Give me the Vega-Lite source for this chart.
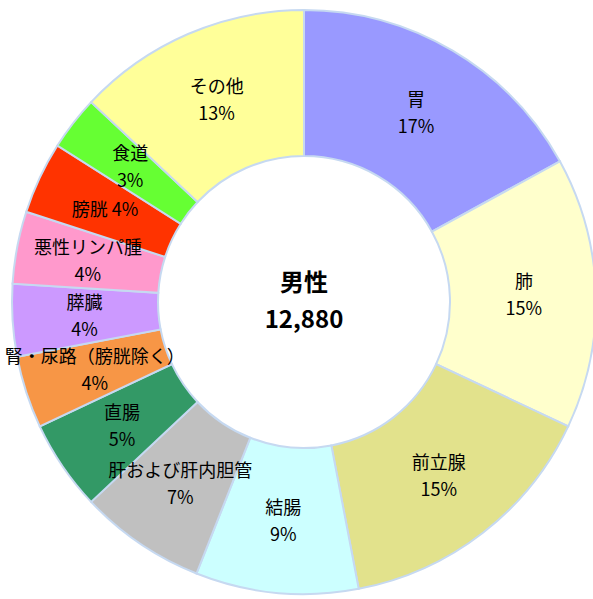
{
  "$schema": "https://vega.github.io/schema/vega-lite/v6.json",
  "width": 608,
  "height": 604,
  "autosize": {"type": "none"},
  "padding": 0,
  "background": "white",
  "config": {"view": {"stroke": null}},
  "datasets": {
    "parts": [
      {"idx": 1, "category": "胃", "pct": 17, "label2": ["胃", "17%"], "label1": ""},
      {"idx": 2, "category": "肺", "pct": 15, "label2": ["肺", "15%"], "label1": ""},
      {"idx": 3, "category": "前立腺", "pct": 15, "label2": ["前立腺", "15%"], "label1": ""},
      {"idx": 4, "category": "結腸", "pct": 9, "label2": ["結腸", "9%"], "label1": ""},
      {"idx": 5, "category": "肝および肝内胆管", "pct": 7, "label2": ["肝および肝内胆管", "7%"], "label1": ""},
      {"idx": 6, "category": "直腸", "pct": 5, "label2": ["直腸", "5%"], "label1": ""},
      {"idx": 7, "category": "腎・尿路（膀胱除く）", "pct": 4, "label2": ["腎・尿路（膀胱除く）", "4%"], "label1": ""},
      {"idx": 8, "category": "膵臓", "pct": 4, "label2": ["膵臓", "4%"], "label1": ""},
      {"idx": 9, "category": "悪性リンパ腫", "pct": 4, "label2": ["悪性リンパ腫", "4%"], "label1": ""},
      {"idx": 10, "category": "膀胱", "pct": 4, "label2": "", "label1": "膀胱 4%"},
      {"idx": 11, "category": "食道", "pct": 3, "label2": ["食道", "3%"], "label1": ""},
      {"idx": 12, "category": "その他", "pct": 13, "label2": ["その他", "13%"], "label1": ""}
    ],
    "center": [{"title": ["男性", "12,880"]}]
  },
  "layer": [
    {
      "data": {"name": "parts"},
      "mark": {"type": "arc", "innerRadius": 146, "outerRadius": 292, "stroke": "#c6d9f1", "strokeWidth": 2},
      "encoding": {
        "theta": {"field": "pct", "type": "quantitative", "stack": true},
        "order": {"field": "idx", "type": "quantitative"},
        "color": {
          "field": "category",
          "type": "nominal",
          "legend": null,
          "scale": {
            "domain": ["胃", "肺", "前立腺", "結腸", "肝および肝内胆管", "直腸", "腎・尿路（膀胱除く）", "膵臓", "悪性リンパ腫", "膀胱", "食道", "その他"],
            "range": ["#9999ff", "#ffffcc", "#e2e28c", "#ccffff", "#c0c0c0", "#339966", "#f79646", "#cc99ff", "#ff99cc", "#ff3300", "#66ff33", "#ffff99"]
          }
        }
      }
    },
    {
      "data": {"name": "parts"},
      "mark": {"type": "text", "radius": 220, "font": "Noto Sans CJK JP", "fontSize": 18, "lineHeight": 27, "dy": -12, "color": "black", "baseline": "middle", "align": "center"},
      "encoding": {
        "theta": {"field": "pct", "type": "quantitative", "stack": true},
        "order": {"field": "idx", "type": "quantitative"},
        "text": {"field": "label2"}
      }
    },
    {
      "data": {"name": "parts"},
      "mark": {"type": "text", "radius": 220, "font": "Noto Sans CJK JP", "fontSize": 18, "dy": 3, "color": "black", "baseline": "middle", "align": "center"},
      "encoding": {
        "theta": {"field": "pct", "type": "quantitative", "stack": true},
        "order": {"field": "idx", "type": "quantitative"},
        "text": {"field": "label1"}
      }
    },
    {
      "data": {"name": "center"},
      "mark": {"type": "text", "font": "Noto Sans CJK JP", "fontSize": 24, "fontWeight": "bold", "lineHeight": 37, "dy": -18, "color": "black", "baseline": "middle", "align": "center"},
      "encoding": {
        "text": {"field": "title"}
      }
    }
  ]
}
